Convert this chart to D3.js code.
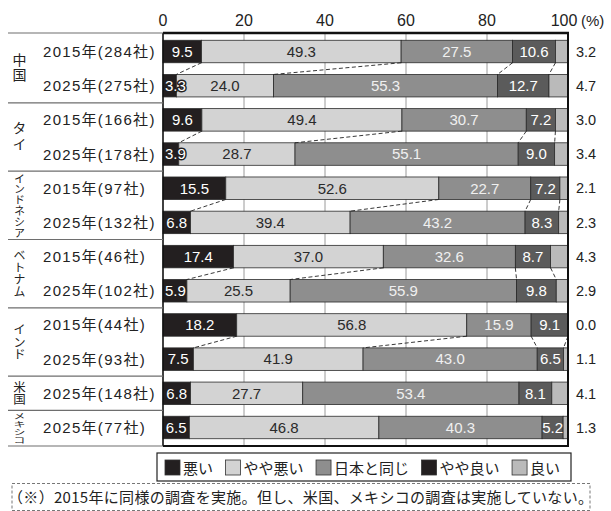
<!DOCTYPE html>
<html><head><meta charset="utf-8">
<script src="https://cdn.jsdelivr.net/npm/d3@7"></script>
<style>
html,body{margin:0;padding:0;background:#fff;}
svg{display:block;}
</style>
</head><body>
<svg id="chart" width="611" height="511"></svg>
<script>
// ---- data ----
const rowCountry = ["中国","中国","タイ","タイ","インドネシア","インドネシア","ベトナム","ベトナム","インド","インド","米国","メキシコ"];
const rowYear = ["2015","2025","2015","2025","2015","2025","2015","2025","2015","2025","2025","2025"];
const rowCount = [284,275,166,178,97,132,46,102,44,93,148,77];
const bad          = [9.5,3.3,9.6,3.9,15.5,6.8,17.4,5.9,18.2,7.5,6.8,6.5];
const slightlyBad  = [49.3,24.0,49.4,28.7,52.6,39.4,37.0,25.5,56.8,41.9,27.7,46.8];
const same         = [27.5,55.3,30.7,55.1,22.7,43.2,32.6,55.9,15.9,43.0,53.4,40.3];
const slightlyGood = [10.6,12.7,7.2,9.0,7.2,8.3,8.7,9.8,9.1,6.5,8.1,5.2];
const good         = [3.2,4.7,3.0,3.4,2.1,2.3,4.3,2.9,0.0,1.1,4.1,1.3];
const categories = ["悪い","やや悪い","日本と同じ","やや良い","良い"];
const tickValues = [0,20,40,60,80,100];
const footnote = "（※）2015年に同様の調査を実施。但し、米国、メキシコの調査は実施していない。";

// ---- styles ----
const barColors = ["#231f20","#d3d3d3","#8e8e8e","#5b5b5b","#bababa"];
const legendColors = ["#231f20","#d3d3d3","#8e8e8e","#231f20","#bababa"];
const labelColors = ["#ffffff","#2a2a2a","#f0f0f0","#ffffff"];
const countryStyle = {
  "中国": {size:14, ls:1.5},
  "タイ": {size:14, ls:2},
  "インドネシア": {size:11, ls:-0.2},
  "ベトナム": {size:12, ls:0},
  "インド": {size:12.5, ls:0},
  "米国": {size:12.5, ls:-0.5},
  "メキシコ": {size:12, ls:0, sy:0.67}
};
const NUM = "'Liberation Sans', Arial, sans-serif";
const JP = "'Noto Sans CJK JP', sans-serif";

const svg = d3.select("#chart");
const keys = ["bad","slightlyBad","same","slightlyGood","good"];
const rows = rowCountry.map((c,i)=>({i, bad:bad[i], slightlyBad:slightlyBad[i], same:same[i], slightlyGood:slightlyGood[i], good:good[i]}));
const stacked = d3.stack().keys(keys)(rows);

const x = d3.scaleLinear().domain([0,100]).range([163,568]).clamp(true);
const y = d3.scaleBand().domain(d3.range(rows.length)).range([33,446]).paddingInner(0.342).paddingOuter(0.2125);
const bw = y.bandwidth();
const yTop = y.range()[0], yBot = y.range()[1];

// gridlines
svg.append("g").selectAll("line").data(tickValues.filter(t=>t>0&&t<100)).join("line")
  .attr("x1",d=>x(d)).attr("x2",d=>x(d)).attr("y1",yTop).attr("y2",yBot)
  .attr("stroke","#9a9a9a").attr("stroke-width",1);

// tick labels
svg.append("g").selectAll("text").data(tickValues).join("text")
  .attr("x",d=>x(d)).attr("dx",d=>d===100?-4:0).attr("y",26).attr("text-anchor","middle")
  .attr("font-family",NUM).attr("font-size",16).attr("fill","#222").text(d=>d);
svg.append("text").attr("x",x(100)+13).attr("y",26).attr("font-family",NUM).attr("font-size",15).attr("fill","#222").text("(%)");

// bars
const segG = svg.append("g");
stacked.forEach((series,k)=>{
  segG.selectAll(null).data(series).join("rect")
    .attr("x",d=>x(d[0])).attr("width",d=>Math.max(0,x(d[1])-x(d[0])))
    .attr("y",(d,i)=>y(i)).attr("height",bw)
    .attr("fill",barColors[k]).attr("stroke","#2a2a2a").attr("stroke-width",0.8);
});

// in-bar labels
const lblG = svg.append("g");
stacked.slice(0,4).forEach((series,k)=>{
  const t = lblG.selectAll(null).data(series).join("text")
    .attr("y",(d,i)=>y(i)+bw/2+5.3)
    .attr("text-anchor","middle")
    .attr("font-family",NUM).attr("font-size",15)
    .attr("fill",labelColors[k])
    .text(d=>(d[1]-d[0]).toFixed(1));
  if(k===0){
    t.attr("stroke","#231f20").attr("stroke-width",3).attr("paint-order","stroke").attr("stroke-linejoin","round");
  }
  t.each(function(d){
    const w = this.getComputedTextLength();
    const c = (x(d[0])+x(d[1]))/2;
    d3.select(this).attr("x", k===0 ? Math.max(c, x(d[0])+2+w/2) : c);
  });
});

// right labels (良い)
svg.append("g").selectAll("text").data(good).join("text")
  .attr("x",576).attr("y",(d,i)=>y(i)+bw/2+5.2)
  .attr("font-family",NUM).attr("font-size",14.5).attr("fill","#222")
  .text(d=>d.toFixed(1));

// dashed connectors
const conG = svg.append("g");
for(let i=0;i<rows.length-1;i++){
  if(rowCountry[i]!==rowCountry[i+1]) continue;
  for(let k=0;k<4;k++){
    conG.append("line")
      .attr("x1",x(stacked[k][i][1])).attr("y1",y(i)+bw)
      .attr("x2",x(stacked[k][i+1][1])).attr("y2",y(i+1))
      .attr("stroke","#222").attr("stroke-width",0.9).attr("stroke-dasharray","4,2.5");
  }
}

// frame
svg.append("line").attr("x1",x(0)).attr("x2",x(0)).attr("y1",yTop).attr("y2",yBot).attr("stroke","#111").attr("stroke-width",1.6);
svg.append("line").attr("x1",x(100)).attr("x2",x(100)).attr("y1",yTop).attr("y2",yBot).attr("stroke","#111").attr("stroke-width",2);
svg.append("line").attr("x1",x(0)).attr("x2",x(100)+1).attr("y1",yTop).attr("y2",yTop).attr("stroke","#111").attr("stroke-width",2.6);
svg.append("line").attr("x1",x(0)).attr("x2",x(100)+1).attr("y1",yBot).attr("y2",yBot).attr("stroke","#111").attr("stroke-width",2);

// groups on left
const groups = [];
rowCountry.forEach((c,i)=>{
  if(!groups.length || groups[groups.length-1].name!==c) groups.push({name:c, first:i, last:i});
  else groups[groups.length-1].last=i;
});
groups.forEach(g=>{
  g.y0 = g.first===0 ? yTop : (y(g.first-1)+bw+y(g.first))/2;
  g.y1 = g.last===rows.length-1 ? yBot : (y(g.last)+bw+y(g.last+1))/2;
});
const sepYs = [yTop].concat(groups.map(g=>g.y1));
svg.append("g").selectAll("line").data(sepYs).join("line")
  .attr("x1",8).attr("x2",x(0)).attr("y1",d=>d).attr("y2",d=>d)
  .attr("stroke","#6e6e6e").attr("stroke-width",1.2);

const cG = svg.append("g");
groups.forEach(g=>{
  const st = countryStyle[g.name];
  const cy = (g.y0+g.y1)/2;
  const sy = st.sy||1;
  cG.append("text")
    .attr("transform",`translate(19.5,${cy}) scale(1,${sy})`)
    .attr("writing-mode","vertical-rl")
    .style("writing-mode","vertical-rl")
    .attr("text-anchor","middle")
    .attr("letter-spacing",st.ls)
    .attr("font-family",JP).attr("font-size",st.size).attr("fill","#222")
    .text(g.name);
});

// row labels
svg.append("g").selectAll("text").data(rows).join("text")
  .attr("x",43).attr("y",(d,i)=>y(i)+bw/2+5.5)
  .attr("font-family","'Liberation Sans', 'Noto Sans CJK JP', sans-serif")
  .attr("font-size",15).attr("letter-spacing",1.3).attr("fill","#222")
  .text((d,i)=>`${rowYear[i]}年(${rowCount[i]}社)`);

// legend
const lg = svg.append("g");
lg.append("rect").attr("x",157).attr("y",453).attr("width",414).attr("height",28)
  .attr("fill","#fff").attr("stroke","#222").attr("stroke-width",1.2);
let lx = 165;
categories.forEach((c,k)=>{
  lg.append("rect").attr("x",lx).attr("y",460).attr("width",15).attr("height",15)
    .attr("fill",legendColors[k]).attr("stroke","#333").attr("stroke-width",0.8);
  const t = lg.append("text").attr("x",lx+18).attr("y",473.5)
    .attr("font-family",JP).attr("font-size",15).attr("fill","#222").text(c);
  lx += 18 + t.node().getComputedTextLength() + 12.5;
});

// footnote
svg.append("rect").attr("x",12).attr("y",483.5).attr("width",578).attr("height",27)
  .attr("fill","none").attr("stroke","#777").attr("stroke-width",1).attr("stroke-dasharray","3,2");
svg.append("text").attr("x",8).attr("y",503)
  .attr("font-family",JP).attr("font-size",15).attr("fill","#222")
  .attr("textLength",585).attr("lengthAdjust","spacing")
  .text(footnote);
</script>
</body></html>
